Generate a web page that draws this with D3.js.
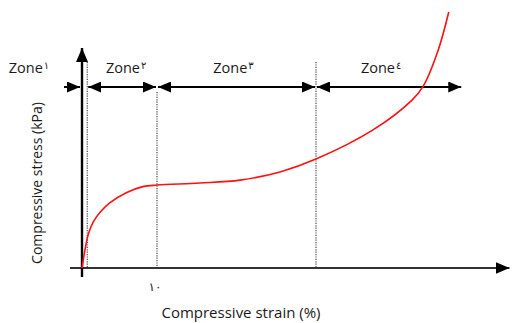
<!DOCTYPE html>
<html>
<head>
<meta charset="utf-8">
<script src="https://cdn.jsdelivr.net/npm/d3@7/dist/d3.min.js"></script>
<style>
  html, body { margin: 0; padding: 0; background: #fff; }
  svg { display: block; }
  text { font-family: "Open Sans", Lato, "DejaVu Sans", sans-serif; fill: #1a1a1a; }
</style>
</head>
<body>
<svg id="chart" width="512" height="323"></svg>
<script>
// Compressive stress–strain curve of a cellular material, split into four zones
const strain = [0, 0.4, 0.85, 1.5, 2.5, 3.7, 5.9, 8.1, 10.0, 15.7, 21.1, 26.4, 31.2, 38.8, 44.0, 45.5, 47.5, 48.9];
const stress = [0, 8.0, 15.0, 20.4, 25.0, 28.8, 33.3, 36.0, 36.7, 37.6, 38.9, 42.5, 48.2, 61.1, 74.3, 80.5, 96.5, 113.3];

// Zone boundaries (strain %) and labels
const zoneBounds = [0.7, 10, 31.2];
const zoneStart = -2.4;
const zoneEnd = 50.7;
const zoneWords = ["Zone", "Zone", "Zone", "Zone"];
const zoneDigits = ["١", "٢", "٣", "٤"];

// Tick labels on the strain axis
const xTickValues = [10];
const xTickLabels = ["١٠"];

const xTitle = "Compressive strain (%)";
const yTitle = "Compressive stress (kPa)";

const svg = d3.select("#chart");

const x = d3.scaleLinear().domain([0, 57]).range([82, 509.5]);
const y = d3.scaleLinear().domain([0, 100]).range([268, 42]);

// Arrowhead markers
const defs = svg.append("defs");
function marker(id, w, h) {
  defs.append("marker")
    .attr("id", id)
    .attr("viewBox", `0 0 ${w} ${h}`)
    .attr("refX", w).attr("refY", h / 2)
    .attr("markerWidth", w).attr("markerHeight", h)
    .attr("markerUnits", "userSpaceOnUse")
    .attr("orient", "auto-start-reverse")
    .append("path")
    .attr("d", `M0,0L${w},${h / 2}L0,${h}Z`)
    .attr("fill", "#000");
}
marker("head", 13, 11);
marker("axisHead", 14, 12);

// Dotted zone boundaries
const boundTops = [62, 92, 62];
svg.append("g").selectAll("line")
  .data(zoneBounds)
  .join("line")
  .attr("x1", d => x(d)).attr("x2", d => x(d))
  .attr("y1", (d, i) => boundTops[i]).attr("y2", y(0))
  .attr("stroke", "#444")
  .attr("stroke-width", 1.2)
  .attr("stroke-dasharray", "1.2,1.2");

// Axes
svg.append("line")
  .attr("x1", 70).attr("x2", x.range()[1])
  .attr("y1", y(0)).attr("y2", y(0))
  .attr("stroke", "#333").attr("stroke-width", 2)
  .attr("marker-end", "url(#axisHead)");
svg.append("line")
  .attr("x1", x(0)).attr("x2", x(0))
  .attr("y1", 277).attr("y2", y.range()[1] + 6)
  .attr("stroke", "#000").attr("stroke-width", 2.4)
  .attr("marker-end", "url(#axisHead)");

// Zone extent arrows
const zoneY = 87;
const edges = [zoneStart, ...zoneBounds, zoneEnd];
const zg = svg.append("g");
// zone 1: single arrow pointing at the stress axis from the left
zg.append("line")
  .attr("x1", x(zoneStart)).attr("x2", x(0) - 2)
  .attr("y1", zoneY).attr("y2", zoneY)
  .attr("stroke", "#000").attr("stroke-width", 2)
  .attr("marker-end", "url(#head)");
// remaining zones: double-headed arrows between boundaries
for (let i = 1; i < edges.length - 1; i++) {
  zg.append("line")
    .attr("x1", x(edges[i]) + 1).attr("x2", x(edges[i + 1]) - 1)
    .attr("y1", zoneY).attr("y2", zoneY)
    .attr("stroke", "#000").attr("stroke-width", 2)
    .attr("marker-start", "url(#head)")
    .attr("marker-end", "url(#head)");
}

// Zone labels
const labelX = [29, (x(edges[1]) + x(edges[2])) / 2 + 4, (x(edges[2]) + x(edges[3])) / 2 - 3, (x(edges[3]) + x(edges[4])) / 2 - 8];
const zt = svg.append("g").selectAll("text")
  .data(zoneWords)
  .join("text")
  .attr("x", (d, i) => labelX[i])
  .attr("y", 73)
  .attr("text-anchor", "middle")
  .attr("font-size", 14.5);
zt.append("tspan").text(d => d);
zt.append("tspan")
  .attr("font-family", "DejaVu Sans")
  .attr("font-size", 10)
  .attr("dy", -4)
  .attr("dx", 1)
  .text((d, i) => zoneDigits[i]);

// Strain tick label
svg.append("g").selectAll("text")
  .data(xTickValues)
  .join("text")
  .attr("x", d => x(d) - 2)
  .attr("y", 291)
  .attr("text-anchor", "middle")
  .attr("font-family", "DejaVu Sans")
  .attr("font-size", 12)
  .text((d, i) => xTickLabels[i]);

// Stress–strain curve
const pts = strain.map((s, i) => [s, stress[i]]);
svg.append("path")
  .datum(pts)
  .attr("fill", "none")
  .attr("stroke", "#ff1010")
  .attr("stroke-width", 1.6)
  .attr("d", d3.line().x(d => x(d[0])).y(d => y(d[1])).curve(d3.curveCatmullRom.alpha(0.5)));

// Axis titles
svg.append("text")
  .attr("x", 241).attr("y", 318)
  .attr("text-anchor", "middle")
  .attr("font-size", 15)
  .text(xTitle);
svg.append("text")
  .attr("transform", "translate(42,183) rotate(-90)")
  .attr("text-anchor", "middle")
  .attr("font-size", 14)
  .text(yTitle);
</script>
</body>
</html>
